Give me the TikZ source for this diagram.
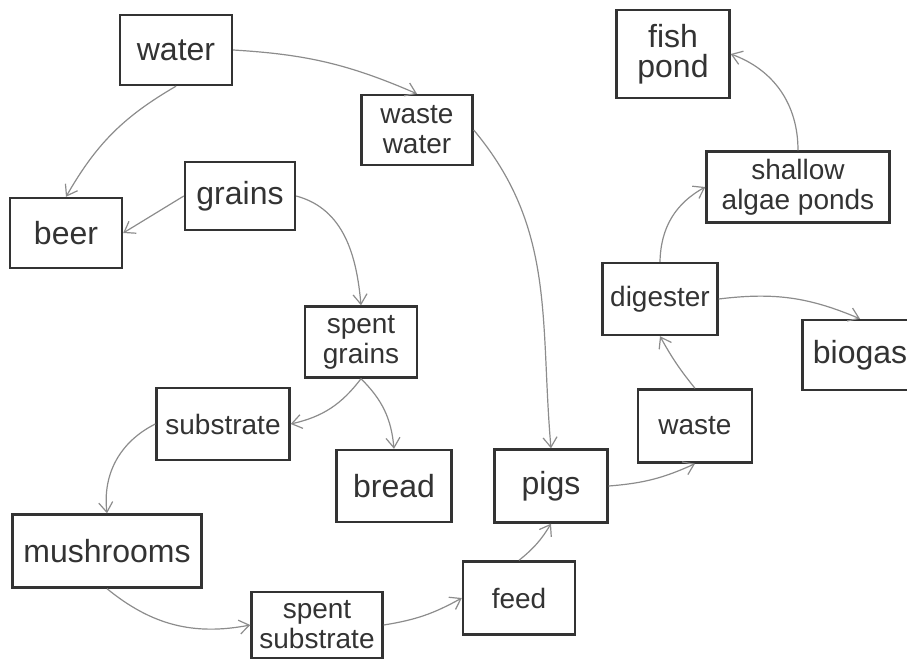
\documentclass[tikz,border=0pt]{standalone}
\usepackage{fontspec}
\setmainfont{Liberation Sans}
\usetikzlibrary{positioning,arrows.meta}

\tikzset{
	box/.style={draw=black!80, line width=1.2pt, text=black!80, inner sep=0pt, align=center},
	big/.style={font=\fontsize{16}{15}\selectfont},
	small/.style={font=\fontsize{14}{15}\selectfont},
	flow/.style={draw=black!45, line width=0.6pt, -{Straight Barb[length=5pt,width=7pt]}},
}

\begin{document}
\begin{tikzpicture}[x=0.5pt,y=0.5pt]
		\useasboundingbox (0,0) rectangle (907,-660);
		\node[box, big, minimum width=56pt, minimum height=35pt] (water) at (176,-50) {water};
		\node[box, small, minimum width=55.5pt, minimum height=35pt] (wastewater) at (417,-130) {waste\\water};
		\node[box, big, minimum width=56pt, minimum height=35pt] (beer) at (66,-233) {beer};
		\node[box, big, minimum width=55pt, minimum height=34pt] (grains) at (240,-196) {grains};
		\node[box, big, minimum width=56.5pt, minimum height=44pt] (fishpond) at (673,-54) {fish\\pond};
		\node[box, small, minimum width=91.5pt, minimum height=35.5pt] (algae) at (798,-187) {shallow\\algae ponds};
		\node[box, small, minimum width=57.5pt, minimum height=36pt] (digester) at (660,-299) {digester};
		\node[box, big, minimum width=57.5pt, minimum height=35pt] (biogas) at (860,-355) {biogas};
		\node[box, small, minimum width=56pt, minimum height=35.5pt] (spentgrains) at (361,-342) {spent\\grains};
		\node[box, small, minimum width=66.5pt, minimum height=36pt] (substrate) at (223,-424) {substrate};
		\node[box, big, minimum width=57.5pt, minimum height=36pt] (bread) at (394,-486) {bread};
		\node[box, big, minimum width=94.5pt, minimum height=36.5pt] (mushrooms) at (107,-551) {mushrooms};
		\node[box, small, minimum width=65.5pt, minimum height=33pt] (spentsubstrate) at (317,-625) {spent\\substrate};
		\node[box, big, minimum width=56.5pt, minimum height=36.5pt] (pigs) at (551,-486) {pigs};
		\node[box, small, minimum width=57pt, minimum height=36.5pt] (waste) at (695,-426) {waste};
		\node[box, small, minimum width=56pt, minimum height=36.5pt] (feed) at (519,-598) {feed};
		
		\draw[flow] (water.east) to[bend left=10] (wastewater.north);
		\draw[flow] (water.south) to[bend right=15] (beer.north);
		\draw[flow] (grains.west) -- (beer.east);
		\draw[flow] (grains.east) to[out=-15,in=95] (spentgrains.north);
		\draw[flow] (wastewater.east) to[out=-50,in=95] (pigs.north);
		\draw[flow] (spentgrains.south) to[bend left=20] (substrate.east);
		\draw[flow] (spentgrains.south) to[bend left=20] (bread.north);
		\draw[flow] (substrate.west) to[bend right=35] (mushrooms.north);
		\draw[flow] (mushrooms.south) to[bend right=25] (spentsubstrate.west);
		\draw[flow] (spentsubstrate.east) to[bend right=10] (feed.west);
		\draw[flow] (feed.north) to[bend right=10] (pigs.south);
		\draw[flow] (pigs.east) to[bend right=10] (waste.south);
		\draw[flow] (waste.north) to[bend left=5] (digester.south);
		\draw[flow] (digester.north) to[bend left=30] (algae.west);
		\draw[flow] (digester.east) to[bend left=15] (biogas.north);
		\draw[flow] (algae.north) to[bend right=35] (fishpond.east);
	\end{tikzpicture}
\end{document}
